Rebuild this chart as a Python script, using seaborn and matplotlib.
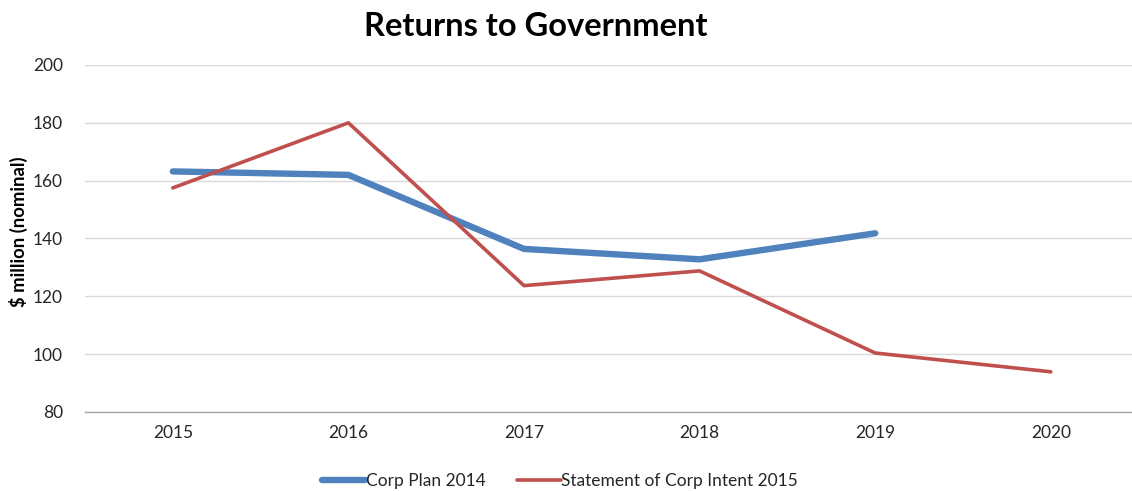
import matplotlib
matplotlib.use("Agg")
import matplotlib.pyplot as plt
import seaborn as sns
import pandas as pd

# Data ($ million, nominal)
years = ["2015", "2016", "2017", "2018", "2019", "2020"]
corp_plan_2014 = [163.2, 162.0, 136.4, 132.8, 141.8]
sci_2015 = [157.5, 180.0, 123.7, 128.8, 100.4, 93.9]
series_names = ["Corp Plan 2014", "Statement of Corp Intent 2015"]

sns.set_theme(style="white")
plt.rcParams["font.family"] = ["Lato", "DejaVu Sans"]

df_plan = pd.DataFrame({"year": years[:len(corp_plan_2014)], "value": corp_plan_2014})
df_sci = pd.DataFrame({"year": years, "value": sci_2015})

fig = plt.figure(figsize=(11.32, 4.91), dpi=100)
ax = fig.add_axes([85 / 1132, 79 / 491, 1053.6 / 1132, 347 / 491])

blue = "#4F81BD"
red = "#C0504D"

# Category order fixed so both series share the same x positions
df_plan["pos"] = [years.index(y) for y in df_plan["year"]]
df_sci["pos"] = [years.index(y) for y in df_sci["year"]]

sns.lineplot(data=df_plan, x="pos", y="value", ax=ax, color=blue, linewidth=4.6,
             solid_capstyle="round", solid_joinstyle="round", label=series_names[0], sort=False)
sns.lineplot(data=df_sci, x="pos", y="value", ax=ax, color=red, linewidth=2.6,
             solid_capstyle="round", solid_joinstyle="round", label=series_names[1], sort=False)

ax.set_xlim(-0.5, len(years) - 0.5)
ax.set_ylim(80, 200)
ax.set_yticks(range(80, 201, 20))
ax.set_xticks(range(len(years)))
ax.set_xticklabels(years)
ax.yaxis.grid(True, color="#D9D9D9", linewidth=1.0)
ax.xaxis.grid(False)
ax.set_axisbelow(True)
for side in ["left", "right", "top"]:
    ax.spines[side].set_visible(False)
ax.spines["bottom"].set_color("#A6A6A6")
ax.spines["bottom"].set_linewidth(1.0)
ax.tick_params(axis="both", which="both", length=0, labelsize=12.5, colors="#262626")
ax.tick_params(axis="y", pad=16)
ax.tick_params(axis="x", pad=9)
ax.set_xlabel("")
ax.set_ylabel("$ million (nominal)", fontsize=13.3, fontweight="bold", color="#000000")
ax.yaxis.set_label_coords(-57 / 1053.6, 0.52)

ax.get_legend().remove()
handles, labels = ax.get_legend_handles_labels()
fig.legend(handles, labels, loc="center", bbox_to_anchor=(560 / 1132, 1 - 481 / 491),
           ncol=2, frameon=False, fontsize=12.5, handlelength=2.5, handletextpad=0.05,
           columnspacing=1.8, labelcolor="#262626")

fig.text(536 / 1132, 1 - 27 / 491, "Returns to Government", ha="center", va="center",
         fontsize=23.5, fontweight="bold", color="#000000")

fig.savefig("out.png", dpi=100)
